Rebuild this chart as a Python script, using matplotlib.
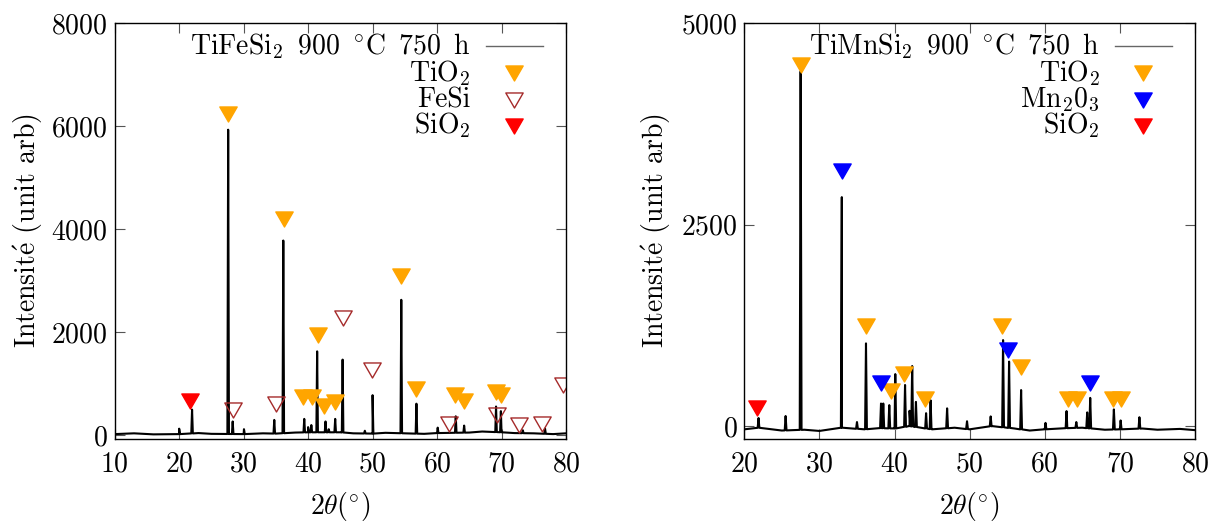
import numpy as np
import matplotlib
matplotlib.use("Agg")
import matplotlib.pyplot as plt
from matplotlib.path import Path

# TiFeSi2 pattern: peak positions (2theta) and peak tops (counts)
fe_peak_pos = [20.0, 22.0, 27.6, 28.3, 30.05, 34.75, 36.15, 39.4, 40.0, 40.5,
               41.4, 42.7, 43.2, 44.2, 45.35, 48.8, 50.0, 54.45, 56.8, 60.1,
               62.9, 64.2, 69.15, 69.9, 73.3, 76.75]
fe_peak_top = [130, 500, 5930, 270, 120, 300, 3780, 320, 160, 200,
               1630, 270, 120, 320, 1470, 90, 780, 2630, 615, 150,
               370, 190, 560, 470, 100, 130]
fe_base_x = [10, 13, 16, 20, 23, 25, 30, 33, 35, 38, 40, 45, 47, 50, 52, 55,
             58, 60, 65, 67, 70, 72, 75, 78, 80]
fe_base_y = [25, 40, 20, 25, 45, 30, 25, 40, 35, 55, 60, 60, 40, 35, 50, 40,
             30, 45, 55, 75, 60, 45, 40, 25, 40]

fe_tio2_x = [27.5, 36.3, 39.25, 40.55, 41.5, 42.5, 44.2, 54.45, 56.75, 62.8,
             64.2, 69.1, 69.9]
fe_tio2_y = [6230, 4190, 740, 740, 1955, 565, 640, 3100, 900, 790,
             660, 835, 777]
fe_fesi_x = [28.4, 34.95, 45.45, 49.95, 61.85, 69.25, 72.75, 76.3, 79.6]
fe_fesi_y = [485, 600, 2280, 1275, 220, 390, 208, 227, 985]
fe_sio2_x = [21.7]
fe_sio2_y = [660]

# TiMnSi2 pattern
mn_peak_pos = [21.9, 25.5, 27.5, 32.98, 35.0, 36.2, 38.2, 38.5, 39.3, 40.1,
               41.4, 42.0, 42.35, 42.85, 44.2, 44.8, 47.0, 49.65, 52.8, 54.45,
               55.25, 56.85, 60.1, 62.9, 64.2, 65.65, 66.05, 69.2, 70.1, 72.6]
mn_peak_top = [100, 125, 4400, 2840, 50, 1026, 280, 280, 260, 645,
               510, 190, 745, 300, 160, 320, 220, 60, 120, 1067,
               800, 447, 40, 186, 50, 170, 350, 207, 70, 110]
mn_base_x = [20, 22, 25, 28, 30, 33, 36, 38, 40, 42, 45, 48, 50, 53, 56, 58,
             60, 63, 65, 68, 70, 73, 75, 78, 80]
mn_base_y = [-40, -20, -55, -45, -60, -20, -40, -25, -30, 0, -40, -20, -40,
             0, -30, -55, -40, -25, -20, -45, -40, -30, -45, -35, -50]

mn_tio2_x = [27.5, 36.2, 39.5, 41.3, 44.0, 54.3, 56.9, 63.07, 64.3, 69.1, 70.2]
mn_tio2_y = [4482, 1240, 434, 641, 331, 1240, 736, 331, 331, 331, 331]
mn_mn2o3_x = [33.0, 38.2, 55.07, 66.0]
mn_mn2o3_y = [3168, 537, 943, 537]
mn_sio2_x = [21.7]
mn_sio2_y = [220]

ORANGE = "#ffa500"
BROWN = "#a52a2a"
RED = "#ff0000"
BLUE = "#0000ff"
TRI = Path([(-1, 0.866), (1, 0.866), (0, -0.866), (-1, 0.866)], closed=True)
MS = 12.5

plt.rcParams.update({
    "font.family": "cmr10",
    "mathtext.fontset": "cm",
    "axes.formatter.use_mathtext": True,
    "font.size": 20,
    "axes.linewidth": 1.0,
    "xtick.direction": "in",
    "ytick.direction": "in",
    "xtick.top": True,
    "ytick.right": True,
    "xtick.major.size": 7.5,
    "ytick.major.size": 7.5,
    "xtick.major.width": 0.8,
    "ytick.major.width": 0.8,
    "xtick.color": "#555555",
    "ytick.color": "#555555",
    "xtick.labelcolor": "black",
    "ytick.labelcolor": "black",
})


def trace(pos, top, bx, by, w=0.12):
    xs = list(bx)
    ys = list(by)
    for p, t in zip(pos, top):
        b = np.interp(p, bx, by)
        xs += [p - w, p, p + w]
        ys += [b, t, b]
    order = np.argsort(xs, kind="stable")
    return np.array(xs)[order], np.array(ys)[order]


def legend(ax, title, entries):
    tx, lx0, lx1, mx = 0.789, 0.822, 0.948, 0.884
    rows = [0.925, 0.861, 0.798, 0.734]
    ax.text(tx, rows[0], title, transform=ax.transAxes, ha="right",
            va="baseline")
    ax.plot([lx0, lx1], [rows[0] + 0.02] * 2, color="#666666", lw=1,
            transform=ax.transAxes, clip_on=False)
    for (label, face, edge), y in zip(entries, rows[1:]):
        ax.text(tx, y, label, transform=ax.transAxes, ha="right",
                va="baseline")
        ax.plot([mx], [y + 0.018], marker=TRI, ms=MS, mfc=face, mec=edge,
                mew=1, ls="none", transform=ax.transAxes, clip_on=False)


fig = plt.figure(figsize=(12.18, 5.24), dpi=100)
ax1 = fig.add_axes([114.7 / 1218, 85 / 524, 451.3 / 1218, 416 / 524])
ax2 = fig.add_axes([744.3 / 1218, 85 / 524, 450.7 / 1218, 416 / 524])

# left panel
x, y = trace(fe_peak_pos, fe_peak_top, fe_base_x, fe_base_y)
ax1.plot(x, y, color="black", lw=1.5)
ax1.plot(fe_tio2_x, fe_tio2_y, ls="none", marker=TRI, ms=MS, mfc=ORANGE,
         mec=ORANGE)
ax1.plot(fe_fesi_x, fe_fesi_y, ls="none", marker=TRI, ms=MS, mfc="none",
         mec=BROWN, mew=1)
ax1.plot(fe_sio2_x, fe_sio2_y, ls="none", marker=TRI, ms=MS, mfc=RED,
         mec=RED)
ax1.set_xlim(10, 80)
ax1.set_ylim(-70, 8000)
ax1.set_xticks(range(10, 81, 10))
ax1.set_yticks(range(0, 8001, 2000))
legend(ax1, r"TiFeSi$_2$ $\,$900 $\,^{\circ}$C $\,$750 $\,$h",
       [(r"TiO$_2$", ORANGE, ORANGE), ("FeSi", "none", BROWN),
        (r"SiO$_2$", RED, RED)])

# right panel
x, y = trace(mn_peak_pos, mn_peak_top, mn_base_x, mn_base_y)
ax2.plot(x, y, color="black", lw=1.5)
ax2.plot(mn_tio2_x, mn_tio2_y, ls="none", marker=TRI, ms=MS, mfc=ORANGE,
         mec=ORANGE)
ax2.plot(mn_mn2o3_x, mn_mn2o3_y, ls="none", marker=TRI, ms=MS, mfc=BLUE,
         mec=BLUE)
ax2.plot(mn_sio2_x, mn_sio2_y, ls="none", marker=TRI, ms=MS, mfc=RED,
         mec=RED)
ax2.set_xlim(20, 80)
ax2.set_ylim(-160, 5000)
ax2.set_xticks(range(20, 81, 10))
ax2.set_yticks([0, 2500, 5000])
legend(ax2, r"TiMnSi$_2$ $\,$900 $\,^{\circ}$C $\,$750 $\,$h",
       [(r"TiO$_2$", ORANGE, ORANGE), (r"Mn$_2$0$_3$", BLUE, BLUE),
        (r"SiO$_2$", RED, RED)])

for ax, ylx in ((ax1, -0.192), (ax2, -0.196)):
    ax.tick_params(axis="x", pad=9)
    ax.tick_params(axis="y", pad=5)
    ax.set_xlabel(r"2$\theta$($^{\circ}$)", va="center")
    ax.xaxis.set_label_coords(0.5, -0.163)
    ax.set_ylabel(r"Intensit$\mathrm{\acute{e}}$ (unit arb)", va="center")
    ax.yaxis.set_label_coords(ylx, 0.5)

fig.savefig("out.png", dpi=100)
